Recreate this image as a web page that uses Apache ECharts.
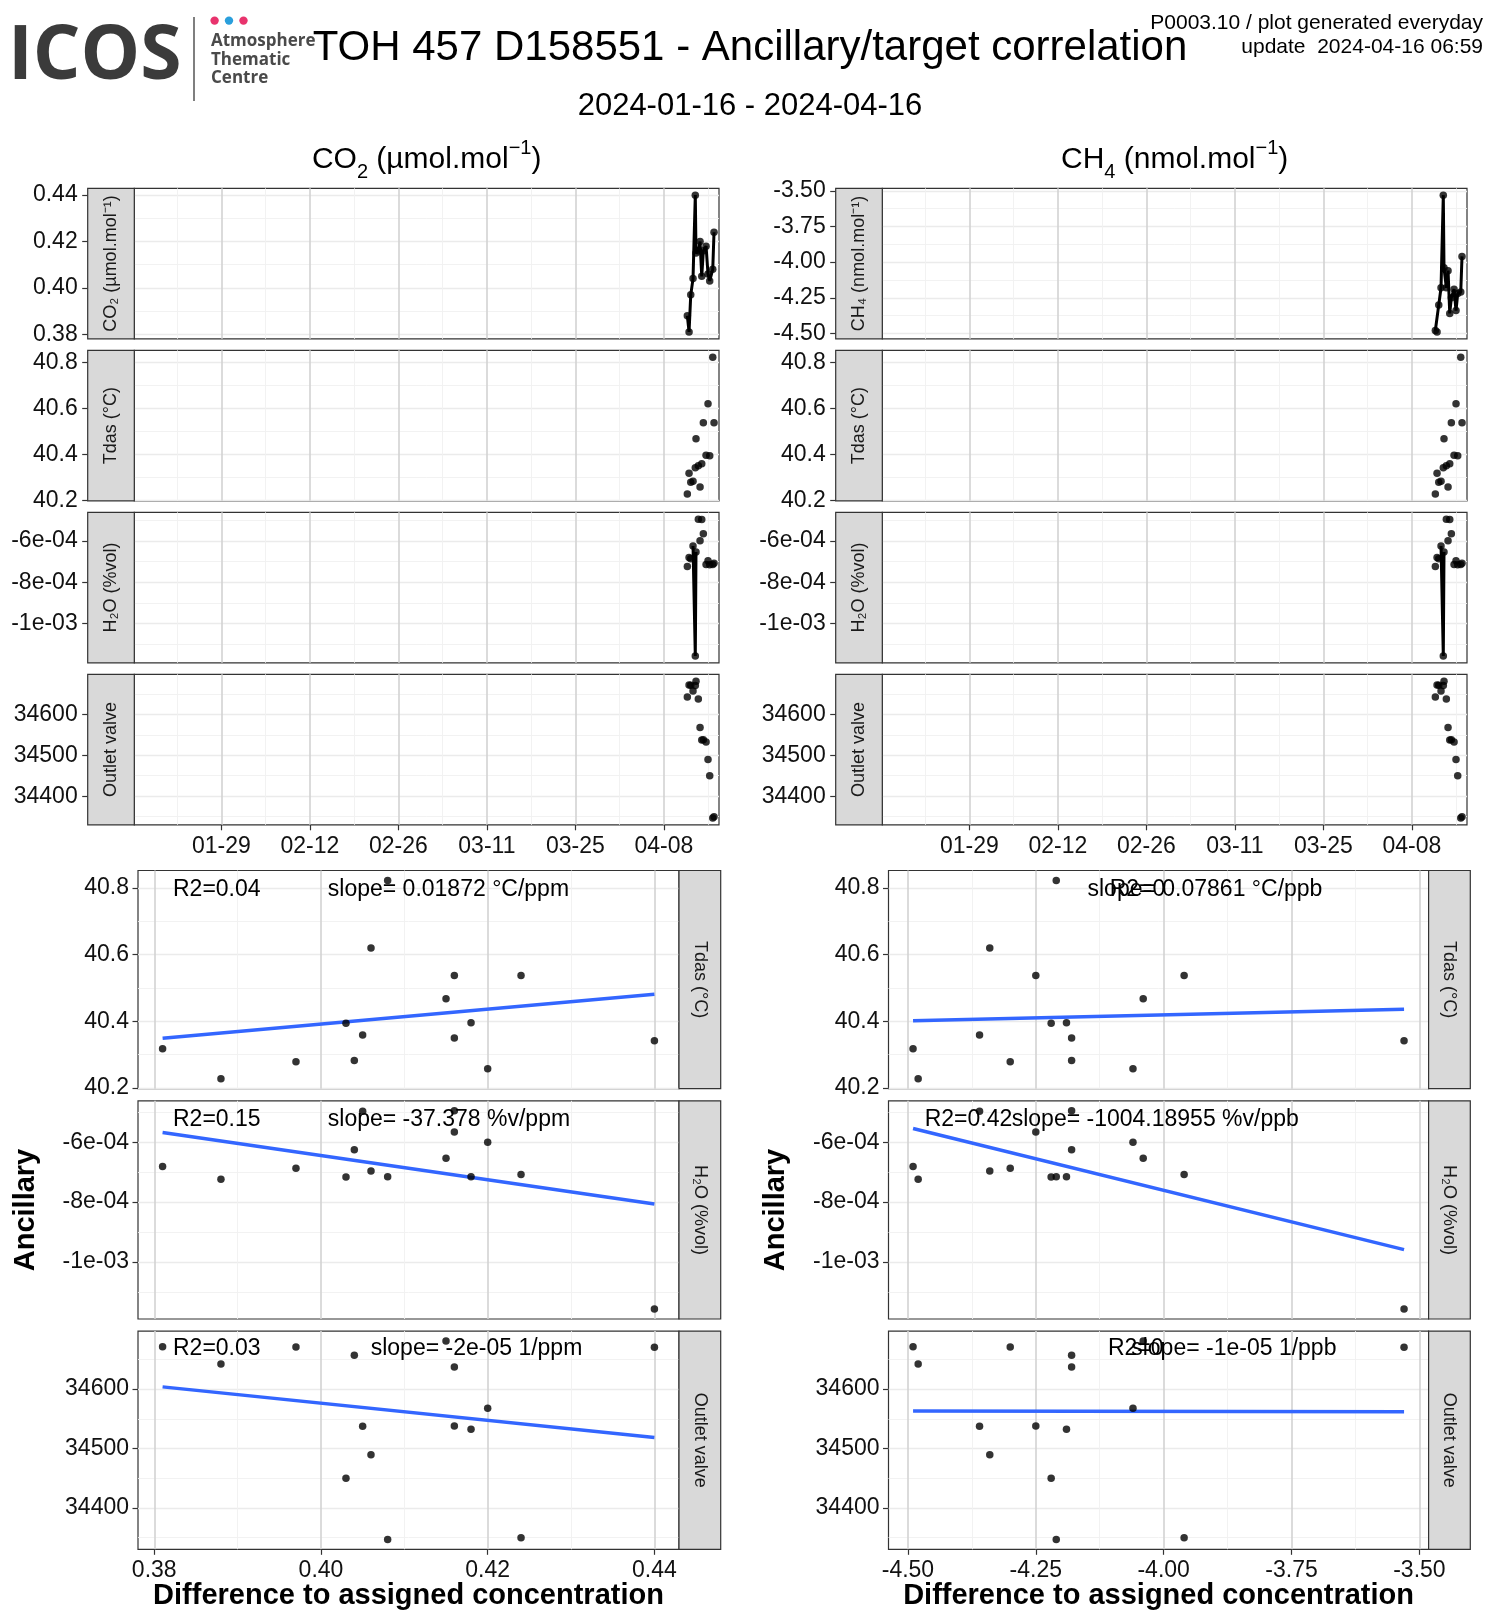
<!DOCTYPE html>
<html>
<head>
<meta charset="utf-8">
<script src="https://cdn.jsdelivr.net/npm/echarts@6.0.0/dist/echarts.min.js"></script>
<style>
html,body{margin:0;padding:0;background:#ffffff;}
#chart{width:1500px;height:1620px;}
</style>
</head>
<body>
<div id="chart"></div>
<script>
// ---------------- data ----------------
const sampleTimes = ['2024-04-11T17:17:00Z','2024-04-11T23:46:00Z','2024-04-12T06:14:00Z','2024-04-12T14:53:00Z',
  '2024-04-12T23:31:00Z','2024-04-13T02:10:00Z','2024-04-13T11:02:00Z','2024-04-13T17:31:00Z','2024-04-14T00:00:00Z',
  '2024-04-14T06:00:00Z','2024-04-14T16:19:00Z','2024-04-14T23:46:00Z','2024-04-15T06:14:00Z','2024-04-15T17:46:00Z',
  '2024-04-15T22:34:00Z'];
const co2Diff = [0.388, 0.381, 0.397, 0.404, 0.440, 0.415, 0.416, 0.420, 0.405, 0.416, 0.418, 0.406, 0.403, 0.408, 0.424];
const ch4Diff = [-4.48, -4.49, -4.30, -4.18, -3.53, -4.04, -4.18, -4.06, -4.36, -4.25, -4.19, -4.34, -4.22, -4.21, -3.96];
const tdas = [40.228, 40.318, 40.279, 40.283, 40.342, 40.468, 40.350, 40.258, 40.359, 40.537, 40.396, 40.620, 40.394, 40.822, 40.537];
const h2o = [-7.24e-4, -6.81e-4, -6.87e-4, -6.25e-4, -1.157e-3, -6.54e-4, -4.95e-4, -6.00e-4, -4.97e-4, -5.66e-4,
  -7.15e-4, -6.96e-4, -7.16e-4, -7.15e-4, -7.08e-4];
const outletValve = [34642.5, 34671.5, 34671, 34657, 34670.4, 34681, 34637.4, 34567.6, 34537.4, 34538, 34532.4,
  34489.4, 34449.7, 34346.9, 34349.7];
// samples joined by a line in the time-series panels
const targetJoinedSamples = [0, 1, 2, 3, 4, 5, 6, 7, 8, 9, 10, 11, 12, 13, 14];
const h2oJoinedSamples = [3, 4, 5];

// tick values
const timeAxisMin = '2024-01-15T05:15:00Z';
const timeAxisMax = '2024-04-16T17:30:00Z';
const timeMajorTicks = ['2024-01-29','2024-02-12','2024-02-26','2024-03-11','2024-03-25','2024-04-08'];
const timeMinorTicks = ['2024-01-22','2024-02-05','2024-02-19','2024-03-04','2024-03-18','2024-04-01','2024-04-15'];
const co2Ticks = [0.38, 0.40, 0.42, 0.44];
const co2MinorTicks = [0.39, 0.41, 0.43];
const ch4Ticks = [-4.50, -4.25, -4.00, -3.75, -3.50];
const ch4MinorTicks = [-4.375, -4.125, -3.875, -3.625];
const tdasTicks = [40.2, 40.4, 40.6, 40.8];
const tdasMinorTicks = [40.3, 40.5, 40.7];
const h2oTicks = [-1e-3, -8e-4, -6e-4];
const h2oMinorTicks = [-1.1e-3, -9e-4, -7e-4, -5e-4];
const outletTicks = [34400, 34500, 34600];
const outletMinorTicks = [34350, 34450, 34550, 34650];

// texts
const fitLabelsCO2 = [['R2=0.04', 'slope= 0.01872 °C/ppm'], ['R2=0.15', 'slope= -37.378 %v/ppm'], ['R2=0.03', 'slope= -2e-05 1/ppm']];
const fitLabelsCH4 = [['R2=0', 'slope= 0.07861 °C/ppb'], ['R2=0.42', 'slope= -1004.18955 %v/ppb'], ['R2=0', 'slope= -1e-05 1/ppb']];

// ---------------- layout ----------------
const FONT = '"Liberation Sans", Arial, Helvetica, sans-serif';
const TS = {left: [134.3, 882.3], width: 584.7, top: [188.3, 350.3, 512.3, 674.3], height: 150.5, strip: 46.6};
const SC = {left: [138, 888.5], width: [541, 540.1], top: [870.5, 1100.8, 1331.1], height: 218.2, strip: 41.7};
const ANN = {r2x: [[173, 173, 173], [1109.7, 924.7, 1107.9]], slx: [[327.8, 327.8, 370.7], [1087.5, 1011.7, 1131.2]], y: [889.3, 1119.3, 1349]};

function pad2(n){ return (n < 10 ? '0' : '') + n; }
function fmtDate(v){ const d = new Date(v); return pad2(d.getUTCMonth() + 1) + '-' + pad2(d.getUTCDate()); }
function fmtSci(v){ return v.toExponential(0).replace(/e([+-])(\d)$/, 'e$10$2'); }
function padRange(vals){ const lo = Math.min(...vals), hi = Math.max(...vals), d = (hi - lo) * 0.05; return [lo - d, hi + d]; }
function linFit(xs, ys){
  const n = xs.length;
  const mx = xs.reduce((a, b) => a + b, 0) / n, my = ys.reduce((a, b) => a + b, 0) / n;
  let sxy = 0, sxx = 0;
  for (let i = 0; i < n; i++){ sxy += (xs[i] - mx) * (ys[i] - my); sxx += (xs[i] - mx) * (xs[i] - mx); }
  const b = sxy / sxx, a = my - b * mx;
  const x0 = Math.min(...xs), x1 = Math.max(...xs);
  return [[x0, a + b * x0], [x1, a + b * x1]];
}

const targets = [
  {vals: co2Diff, major: co2Ticks, minor: co2MinorTicks, fmt: v => v.toFixed(2), joined: targetJoinedSamples,
   strip: 'CO₂ (µmol.mol⁻¹)', title: '{m|CO}{sub|2}{m| (µmol.mol}{sup|−1}{m|)}', fits: fitLabelsCO2},
  {vals: ch4Diff, major: ch4Ticks, minor: ch4MinorTicks, fmt: v => v.toFixed(2), joined: targetJoinedSamples,
   strip: 'CH₄ (nmol.mol⁻¹)', title: '{m|CH}{sub|4}{m| (nmol.mol}{sup|−1}{m|)}', fits: fitLabelsCH4}
];
const ancillary = [
  {vals: tdas, major: tdasTicks, minor: tdasMinorTicks, fmt: v => v.toFixed(1), joined: null, strip: 'Tdas (°C)'},
  {vals: h2o, major: h2oTicks, minor: h2oMinorTicks, fmt: fmtSci, joined: h2oJoinedSamples, strip: 'H₂O (%vol)'},
  {vals: outletValve, major: outletTicks, minor: outletMinorTicks, fmt: v => String(v), joined: null, strip: 'Outlet valve'}
];

const grids = [], xAxes = [], yAxes = [], series = [], graphics = [];

function axisPair(list, gi, c, dim){
  list.push({type: 'value', gridIndex: gi, min: c.min, max: c.max, silent: true,
    axisLine: {show: false}, axisTick: {show: false, customValues: c.minor}, axisLabel: {show: false, customValues: c.minor},
    splitLine: {show: true, lineStyle: {color: '#F0F0F0', width: 0.9}}});
  list.push({type: 'value', gridIndex: gi, min: c.min, max: c.max, position: c.position, offset: c.offset || 0, silent: true,
    axisLine: {show: false},
    axisTick: {show: !!c.ticks, length: 5.5, customValues: c.major, lineStyle: {color: '#333333', width: 1.2}},
    axisLabel: {show: !!c.labels, customValues: c.major, formatter: c.fmt, margin: c.margin, color: '#111111', fontSize: 23, fontFamily: FONT},
    splitLine: {show: true, lineStyle: {color: dim === 'x' ? '#D2D2D2' : '#EBEBEB', width: dim === 'x' ? 1.6 : 1.4}}});
  return list.length - 1;
}
function text(x, y, str, size, opts){
  opts = opts || {};
  const st = {text: str, fill: opts.color || '#000000', fontSize: size, fontFamily: opts.family || FONT, fontWeight: opts.weight || 'normal',
      align: opts.align || 'center', verticalAlign: 'middle', textAlign: opts.align || 'center', textVerticalAlign: 'middle'};
  if (opts.rich) st.rich = opts.rich;
  return {type: 'text', z: 60, x: x, y: y, rotation: opts.rot || 0, silent: true, style: st};
}
function strip(x, y, w, h, str, rot){
  graphics.push({type: 'rect', z: 50, silent: true, shape: {x: x, y: y, width: w, height: h}, style: {fill: '#D9D9D9', stroke: '#333333', lineWidth: 1.2}});
  graphics.push(text(x + w / 2, y + h / 2, str, 18, {rot: rot, color: '#1A1A1A'}));
}
const titleRich = {
  m: {fontSize: 30, lineHeight: 44, fontFamily: FONT, fill: '#000000', verticalAlign: 'middle'},
  sub: {fontSize: 20, lineHeight: 24, fontFamily: FONT, fill: '#000000', verticalAlign: 'bottom'},
  sup: {fontSize: 20, lineHeight: 30, fontFamily: FONT, fill: '#000000', verticalAlign: 'top'}
};

const tsTimes = sampleTimes.map(s => Date.parse(s));
const tMin = Date.parse(timeAxisMin), tMax = Date.parse(timeAxisMax);
const tMajor = timeMajorTicks.map(s => Date.parse(s)), tMinor = timeMinorTicks.map(s => Date.parse(s));

for (let c = 0; c < 2; c++){
  const tgt = targets[c];
  // ---- time series ----
  const rows = [{vals: tgt.vals, major: tgt.major, minor: tgt.minor, fmt: tgt.fmt, joined: tgt.joined, strip: tgt.strip}].concat(ancillary);
  rows.forEach((row, r) => {
    const gi = grids.length;
    grids.push({left: TS.left[c], top: TS.top[r], width: TS.width, height: TS.height, show: true, backgroundColor: '#ffffff', borderColor: '#333333', borderWidth: 1.2});
    const xi = axisPair(xAxes, gi, {min: tMin, max: tMax, major: tMajor, minor: tMinor, fmt: fmtDate, labels: r === 3, ticks: r === 3, position: 'bottom', margin: 10}, 'x');
    const yr = padRange(row.vals);
    const yi = axisPair(yAxes, gi, {min: yr[0], max: yr[1], major: row.major, minor: row.minor, fmt: row.fmt, labels: true, ticks: true, position: 'left', offset: TS.strip, margin: 10}, 'y');
    if (row.joined){
      series.push({type: 'line', xAxisIndex: xi, yAxisIndex: yi, silent: true, z: 3,
        data: row.joined.map(i => [tsTimes[i], row.vals[i]]), symbol: 'none', lineStyle: {color: '#000000', width: 3}});
    }
    series.push({type: 'scatter', xAxisIndex: xi, yAxisIndex: yi, silent: true, z: 4,
      data: tsTimes.map((t, i) => [t, row.vals[i]]), symbol: 'circle', symbolSize: 7.5, itemStyle: {color: '#000000'}});
    strip(TS.left[c] - TS.strip, TS.top[r], TS.strip, TS.height, row.strip, Math.PI / 2);
  });
  graphics.push(text(TS.left[c] + TS.width / 2, 160, tgt.title, 30, {rich: titleRich}));

  // ---- correlation panels ----
  const xr = padRange(tgt.vals);
  ancillary.forEach((anc, a) => {
    const gi = grids.length;
    grids.push({left: SC.left[c], top: SC.top[a], width: SC.width[c], height: SC.height, show: true, backgroundColor: '#ffffff', borderColor: '#333333', borderWidth: 1.2});
    const xi = axisPair(xAxes, gi, {min: xr[0], max: xr[1], major: tgt.major, minor: tgt.minor, fmt: tgt.fmt, labels: a === 2, ticks: a === 2, position: 'bottom', margin: 10}, 'x');
    const yr = padRange(anc.vals);
    const yi = axisPair(yAxes, gi, {min: yr[0], max: yr[1], major: anc.major, minor: anc.minor, fmt: anc.fmt, labels: true, ticks: true, position: 'left', margin: 9}, 'y');
    series.push({type: 'scatter', xAxisIndex: xi, yAxisIndex: yi, silent: true, z: 3,
      data: tgt.vals.map((v, i) => [v, anc.vals[i]]), symbol: 'circle', symbolSize: 7.5, itemStyle: {color: '#000000'}});
    series.push({type: 'line', xAxisIndex: xi, yAxisIndex: yi, silent: true, z: 2,
      data: linFit(tgt.vals, anc.vals), symbol: 'none', lineStyle: {color: '#3366FF', width: 3.5}});
    strip(SC.left[c] + SC.width[c], SC.top[a], SC.strip, SC.height, anc.strip, -Math.PI / 2);
    graphics.push(text(ANN.r2x[c][a], ANN.y[a], tgt.fits[a][0], 23, {align: 'left'}));
    graphics.push(text(ANN.slx[c][a], ANN.y[a], tgt.fits[a][1], 23, {align: 'left'}));
  });
  graphics.push(text(SC.left[c] + SC.width[c] / 2, 1595.5, 'Difference to assigned concentration', 29, {weight: 'bold'}));
  graphics.push(text(c === 0 ? 26 : 776, 1210, 'Ancillary', 29, {weight: 'bold', rot: Math.PI / 2}));
}

// ---- header ----
graphics.push(text(8, 58, 'ICOS', 75, {align: 'left', weight: 'bold', family: '"Open Sans", sans-serif', color: '#3b3b3b'}));
graphics.push({type: 'line', z: 60, silent: true, shape: {x1: 194, y1: 17, x2: 194, y2: 101}, style: {stroke: '#555555', lineWidth: 1.5}});
graphics.push({type: 'circle', z: 60, silent: true, shape: {cx: 214.6, cy: 20.6, r: 4.2}, style: {fill: '#E8336D'}});
graphics.push({type: 'circle', z: 60, silent: true, shape: {cx: 229, cy: 20.6, r: 4.2}, style: {fill: '#2A9FDC'}});
graphics.push({type: 'circle', z: 60, silent: true, shape: {cx: 243.5, cy: 20.6, r: 4.2}, style: {fill: '#E8336D'}});
graphics.push(text(211, 41.3, 'Atmosphere', 17, {align: 'left', weight: 'bold', family: '"Open Sans", sans-serif', color: '#4a4a4a'}));
graphics.push(text(211, 59.9, 'Thematic', 17, {align: 'left', weight: 'bold', family: '"Open Sans", sans-serif', color: '#4a4a4a'}));
graphics.push(text(211, 78.4, 'Centre', 17, {align: 'left', weight: 'bold', family: '"Open Sans", sans-serif', color: '#4a4a4a'}));
graphics.push(text(750, 48, 'TOH 457 D158551 - Ancillary/target correlation', 42));
graphics.push(text(750, 106, '2024-01-16 - 2024-04-16', 31));
graphics.push(text(1483, 23.7, 'P0003.10 / plot generated everyday', 21, {align: 'right'}));
graphics.push(text(1483, 47.5, 'update  2024-04-16 06:59', 21, {align: 'right'}));

const chart = echarts.init(document.getElementById('chart'), null, {renderer: 'canvas'});
chart.setOption({
  animation: false,
  backgroundColor: '#ffffff',
  grid: grids,
  xAxis: xAxes,
  yAxis: yAxes,
  series: series,
  graphic: {elements: graphics}
});
</script>
</body>
</html>
